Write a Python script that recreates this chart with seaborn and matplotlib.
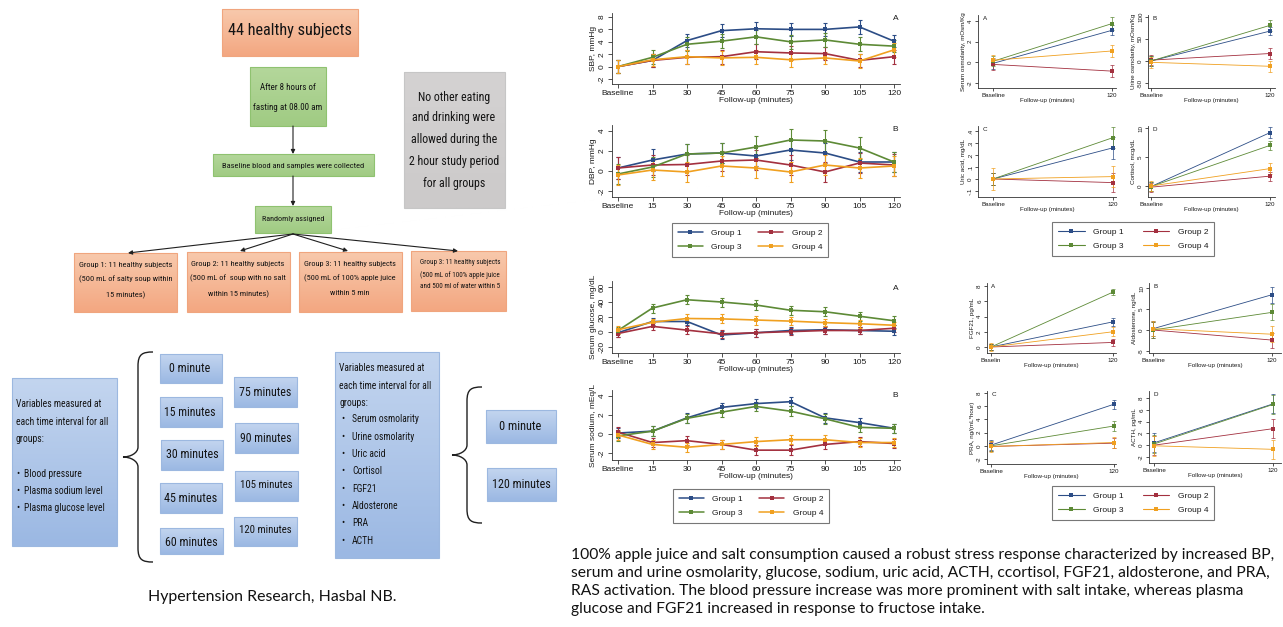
import numpy as np
import pandas as pd
import matplotlib
matplotlib.use('Agg')
import matplotlib.pyplot as plt
import seaborn as sns
from matplotlib import font_manager
from matplotlib.font_manager import FontProperties
from matplotlib.patches import Rectangle, PathPatch
from matplotlib.path import Path
from matplotlib.colors import LinearSegmentedColormap
from matplotlib.lines import Line2D

# ------------------------------------------------------------------ data
groups = ['Group 1', 'Group 2', 'Group 3', 'Group 4']
group_colors = ['#2c4d86', '#a3303f', '#5d8a36', '#f0a020']
time_labels = ['Baseline', '15', '30', '45', '60', '75', '90', '105', '120']

sbp_mean = [[0, 1.0, 4.2, 5.8, 6.1, 6.0, 6.0, 6.4, 4.1],
            [0, 1.0, 1.5, 1.6, 2.4, 2.2, 2.1, 1.0, 1.6],
            [0, 1.5, 3.6, 4.1, 4.8, 4.0, 4.3, 3.6, 3.3],
            [0, 1.1, 1.6, 1.4, 1.5, 1.1, 1.4, 0.9, 2.7]]
sbp_err = [[1.1, 1.1, 1.1, 1.1, 1.1, 1.1, 1.1, 1.1, 1.0],
           [1.1, 1.0, 1.1, 1.1, 1.2, 1.1, 1.1, 1.1, 1.1],
           [1.1, 1.1, 1.1, 1.1, 1.1, 1.1, 1.1, 1.1, 1.0],
           [1.1, 1.0, 1.1, 1.1, 1.1, 1.1, 1.0, 1.1, 1.1]]

dbp_mean = [[0.3, 1.1, 1.7, 1.8, 1.5, 2.1, 1.8, 0.9, 0.9],
            [0.3, 0.6, 0.65, 1.0, 1.1, 0.6, -0.1, 0.8, 0.6],
            [-0.3, 0.4, 1.7, 1.8, 2.4, 3.1, 3.0, 2.3, 0.9],
            [-0.4, 0.1, -0.1, 0.5, 0.3, -0.1, 0.6, 0.3, 0.5]]
dbp_err = [[1.1, 1.1, 1.0, 1.0, 1.0, 1.0, 1.0, 1.0, 1.0],
           [1.1, 1.0, 1.0, 1.0, 1.0, 1.0, 1.0, 1.0, 1.1],
           [1.0, 1.0, 1.0, 1.0, 1.1, 1.1, 1.1, 1.1, 1.0],
           [1.0, 1.0, 1.0, 1.0, 1.0, 1.0, 1.0, 1.0, 1.0]]

glucose_mean = [[-1, 14, 14, -4, -1, 2, 3, 2, 1],
                [-2, 7.5, 2.5, -2.5, -1, 0.5, 2, 2, 5],
                [2, 32, 43, 40, 36, 29, 27, 21, 15],
                [3, 13, 18, 17.5, 16, 14.5, 12.5, 11, 9]]
glucose_err = [[5, 5, 5, 5, 5, 5, 5, 5, 5],
               [5, 5, 5, 5, 5, 5, 5, 5, 5],
               [5, 6, 6, 6, 7, 6, 6, 6, 6],
               [5, 5, 6, 6, 6, 5, 5, 5, 5]]

sodium_mean = [[0.1, 0.3, 1.7, 2.8, 3.2, 3.4, 1.7, 1.2, 0.6],
               [0.2, -0.9, -0.7, -1.1, -1.7, -1.7, -1.1, -0.8, -1.0],
               [-0.2, 0.3, 1.65, 2.3, 2.9, 2.4, 1.6, 0.7, 0.6],
               [-0.1, -1.1, -1.4, -1.1, -0.8, -0.6, -0.6, -0.9, -0.9]]
sodium_err = [[0.5, 0.5, 0.5, 0.5, 0.5, 0.5, 0.5, 0.5, 0.5],
              [0.5, 0.5, 0.5, 0.5, 0.5, 0.5, 0.5, 0.5, 0.5],
              [0.5, 0.5, 0.5, 0.5, 0.5, 0.5, 0.5, 0.5, 0.5],
              [0.5, 0.5, 0.5, 0.5, 0.5, 0.5, 0.5, 0.5, 0.5]]

two_labels = ['Baseline', '120']
serum_osm_mean = [[-0.1, 3.1], [-0.2, -0.85], [0.1, 3.75], [0.2, 1.1]]
serum_osm_err = [[0.5, 0.5], [0.5, 0.6], [0.5, 0.6], [0.5, 0.6]]
urine_osm_mean = [[0, 68], [2, 17], [0, 81], [-3, -12]]
urine_osm_err = [[12, 10], [12, 13], [12, 12], [13, 12]]
uric_acid_mean = [[0, 0.26], [0, -0.03], [0, 0.345], [0, 0.02]]
uric_acid_err = [[0.05, 0.09], [0.05, 0.08], [0.05, 0.085], [0.09, 0.09]]
cortisol_mean = [[-0.1, 9.2], [-0.2, 1.7], [-0.1, 7.0], [0, 3.0]]
cortisol_err = [[0.8, 0.9], [0.8, 0.8], [0.8, 0.8], [0.9, 0.9]]
fgf21_mean = [[0, 3.3], [0, 0.6], [0, 7.2], [0, 2.0]]
fgf21_err = [[0.4, 0.5], [0.4, 0.5], [0.4, 0.4], [0.5, 0.6]]
aldo_mean = [[0.3, 8.4], [0, -2.4], [0, 4.2], [0.3, -1.0]]
aldo_err = [[1.8, 1.9], [1.8, 1.8], [1.8, 1.9], [1.8, 1.9]]
pra_mean = [[0.1, 6.3], [-0.1, 0.4], [0, 3.0], [-0.1, 0.5]]
pra_err = [[0.8, 0.7], [0.7, 0.8], [0.8, 0.7], [0.8, 0.8]]
acth_mean = [[0.4, 7.0], [0, 2.8], [0.2, 6.9], [-0.1, -0.7]]
acth_err = [[1.6, 1.6], [1.6, 1.6], [1.6, 1.6], [1.7, 1.6]]

# ------------------------------------------------------------------ setup
sns.set_theme(style='white', context='paper')
ttf = font_manager.fontManager.ttflist
avail = {f.name for f in ttf}


def pick(*names):
    for n in names:
        if n in avail:
            return n
    return 'DejaVu Sans'


def narrow_font():
    def is_regular(f):
        w = f.weight
        return (w in (400, 'normal', 'regular', 'book', 'Regular')) and f.style == 'normal'
    pref = ['Liberation Sans Narrow', 'Roboto Condensed', 'Open Sans Condensed',
            'Noto Sans', 'Open Sans', 'DejaVu Sans', 'Roboto']
    cands = [f for f in ttf if is_regular(f) and
             ('Narrow' in f.name or 'Condensed' in f.name or
              str(f.stretch) in ('condensed', 'semi-condensed', 'extra-condensed'))]
    for p in pref:
        for f in cands:
            if f.name == p and 'Mono' not in f.fname:
                return FontProperties(fname=f.fname)
    for f in cands:
        if 'Mono' not in f.fname and 'Serif' not in f.name:
            return FontProperties(fname=f.fname)
    return FontProperties(family=pick('Roboto', 'Open Sans'))


FLOW_FP = narrow_font()
CAP_FP = FontProperties(family=pick('Lato', 'Open Sans'))
PANEL = pick('Liberation Sans', 'Arimo')
plt.rcParams['font.family'] = [PANEL, 'DejaVu Sans']

W, H = 1283, 627
fig = plt.figure(figsize=(W / 100, H / 100), dpi=100, facecolor='white')
R = fig.canvas.get_renderer()

bg = fig.add_axes([0, 0, 1, 1], zorder=0)
bg.set_xlim(0, W)
bg.set_ylim(H, 0)
bg.axis('off')

TXT = '#141414'


def gbox(x0, y0, x1, y1, ctop, cbot, edge, lw=0.8):
    cmap = LinearSegmentedColormap.from_list('g', [ctop, cbot])
    grad = np.linspace(0, 1, 64)[:, None]
    bg.imshow(grad, cmap=cmap, extent=(x0, x1, y1, y0), aspect='auto',
              origin='upper', zorder=1, interpolation='bilinear')
    bg.add_patch(Rectangle((x0, y0), x1 - x0, y1 - y0, fill=False, ec=edge,
                           lw=lw, zorder=2))


def fit_size(s, target_w, fp):
    t = bg.text(0, 0, s, fontproperties=fp.copy(), fontsize=10)
    w = t.get_window_extent(renderer=R).width
    t.remove()
    return 10.0 * target_w / w


def ftext(x, y, s, target_w, fp=None, ha='center', va='center', color=TXT):
    fp = fp or FLOW_FP
    fs = fit_size(s, target_w, fp)
    return bg.text(x, y, s, fontproperties=fp.copy(), fontsize=fs, ha=ha,
                   va=va, color=color, zorder=5)


def lines_text(x, ys, lines, ref, target_w, fp=None, ha='center', color=TXT, fs=None):
    fp = fp or FLOW_FP
    if fs is None:
        fs = fit_size(lines[ref], target_w, fp)
    for yy, s in zip(ys, lines):
        bg.text(x, yy, s, fontproperties=fp.copy(), fontsize=fs, ha=ha,
                va='center', color=color, zorder=5)
    return fs


def bullets(xb, xt, ys, items, fs):
    for yy, s in zip(ys, items):
        bg.text(xb, yy, '\u2022', fontproperties=FLOW_FP.copy(), fontsize=fs,
                ha='left', va='center', color=TXT, zorder=5)
        bg.text(xt, yy, s, fontproperties=FLOW_FP.copy(), fontsize=fs,
                ha='left', va='center', color=TXT, zorder=5)


def arrow(x0, y0, x1, y1):
    bg.annotate('', xy=(x1, y1), xytext=(x0, y0),
                arrowprops=dict(arrowstyle='-|>', lw=0.8, color='#202020',
                                mutation_scale=6, shrinkA=0, shrinkB=0), zorder=4)


def brace(xo, xi, y0, ytip, y1):
    xm = xo + (xi - xo) * 0.5
    c = 8
    verts = [(xi, y0),
             (xi - (xi - xm) * 0.7, y0), (xm, y0 + 2), (xm, y0 + c + 6),
             (xm, ytip - c - 2),
             (xm, ytip - 4), (xo + (xm - xo) * 0.5, ytip), (xo, ytip),
             (xo + (xm - xo) * 0.5, ytip), (xm, ytip + 4), (xm, ytip + c + 2),
             (xm, y1 - c - 6),
             (xm, y1 - 2), (xi - (xi - xm) * 0.7, y1), (xi, y1)]
    codes = [Path.MOVETO, Path.CURVE4, Path.CURVE4, Path.CURVE4, Path.LINETO,
             Path.CURVE4, Path.CURVE4, Path.CURVE4,
             Path.CURVE4, Path.CURVE4, Path.CURVE4, Path.LINETO,
             Path.CURVE4, Path.CURVE4, Path.CURVE4]
    bg.add_patch(PathPatch(Path(verts, codes), fill=False, lw=1.0,
                           ec='#202020', zorder=3))


SAL = ('#F8C9AC', '#F3A781', '#F0A57E')
GRN = ('#B4D79B', '#A0CB83', '#8FC270')
GRY = ('#D4D2D2', '#CCCACA', '#C6C6C6')
BLU = ('#C3D5EF', '#9BB8E3', '#9CB8E0')

# ------------------------------------------------------------------ flowchart (top-left)
gbox(222, 9, 358, 56, *SAL)
ftext(290, 31, '44 healthy subjects', 123)
gbox(250, 67, 326, 126, *GRN)
lines_text(288, [88, 107], ['After 8 hours of', 'fasting at 08.00 am'], 1, 68)
gbox(213, 154, 374, 176, *GRN)
ftext(293, 166, 'Baseline blood and samples were collected', 141)
gbox(255, 206, 331, 233, *GRN)
ftext(293, 219, 'Randomly assigned', 62)
gbox(404, 72, 505, 208, *GRY)
lines_text(454, [97, 118, 140, 162, 184],
           ['No other eating', 'and drinking were', 'allowed during the',
            '2 hour study period', 'for all groups'], 3, 90)

arrow(293, 126, 293, 154)
arrow(293, 176, 293, 206)
for gx, gy in [(128, 253), (240, 251), (348, 251), (458, 251)]:
    arrow(293, 234, gx, gy)

gbox(74, 253, 177, 312, *SAL)
lines_text(125.5, [265, 279, 295], ['Group 1: 11 healthy subjects',
                                    '(500 mL of salty soup within', '15 minutes)'], 0, 93)
gbox(187, 252, 290, 312, *SAL)
lines_text(238, [264, 278, 294], ['Group 2: 11 healthy subjects',
                                  '(500 mL of  soup with no salt', 'within 15 minutes)'], 0, 93)
gbox(299, 252, 402, 312, *SAL)
lines_text(350, [264, 278, 293], ['Group 3: 11 healthy subjects',
                                  '(500 mL of 100% apple juice', 'within 5 min'], 0, 92)
gbox(411, 251, 506, 311, *SAL)
lines_text(460, [262, 275, 287], ['Group 3: 11 healthy subjects',
                                  '(500 mL of 100% apple juice',
                                  'and 500 ml of water within 5'], 0, 80)

# ------------------------------------------------------------------ flowchart (bottom-left)
gbox(12, 378, 117, 546, *BLU)
fsb = lines_text(16, [404, 422, 439], ['Variables measured at',
                                       'each time interval for all', 'groups:'],
                 1, 91, ha='left')
bullets(16, 24, [474, 491, 508], ['Blood pressure', 'Plasma sodium level',
                                  'Plasma glucose level'], fsb)

brace(123, 153, 352, 457, 562)

time_boxes = [((160, 354, 222, 383), (190, 369), '0 minute', 41),
              ((160, 397, 222, 427), (190, 412), '15 minutes', 51),
              ((161, 440, 223, 470), (192, 455), '30 minutes', 52),
              ((160, 483, 222, 513), (191, 498), '45 minutes', 53),
              ((160, 528, 223, 554), (191, 542), '60 minutes', 52),
              ((234, 377, 297, 407), (265, 392), '75 minutes', 52),
              ((235, 423, 298, 453), (266, 438), '90 minutes', 51),
              ((235, 471, 298, 501), (266, 485), '105 minutes', 52),
              ((234, 517, 297, 546), (265, 530), '120 minutes', 52)]
for (x0, y0, x1, y1), (tx, ty), s, tw in time_boxes:
    gbox(x0, y0, x1, y1, *BLU)
    ftext(tx, ty, s, tw)

gbox(335, 352, 439, 558, *BLU)
fsm = lines_text(339, [368, 386, 403], ['Variables measured at',
                                        'each time interval for all', 'groups:'],
                 1, 91, ha='left')
bullets(341, 352, [419, 437, 454, 471, 489, 506, 523, 541],
        ['Serum osmolarity', 'Urine osmolarity', 'Uric acid', 'Cortisol',
         'FGF21', 'Aldosterone', 'PRA', 'ACTH'], fsm)

brace(452, 482, 387, 455, 523)
gbox(486, 410, 556, 443, *BLU)
ftext(520, 426, '0 minute', 42)
gbox(487, 468, 556, 501, *BLU)
ftext(521, 484, '120 minutes', 58)

ftext(272, 597, 'Hypertension Research, Hasbal NB.', 248, fp=CAP_FP, color='#111111')

cap_lines = ['100% apple juice and salt consumption caused a robust stress response characterized by increased BP,',
             'serum and urine osmolarity, glucose, sodium, uric acid, ACTH, ccortisol, FGF21, aldosterone, and PRA,',
             'RAS activation. The blood pressure increase was more prominent with salt intake, whereas plasma',
             'glucose and FGF21 increased in response to fructose intake.']
cap_fs = min(fit_size(cap_lines[2], 697, CAP_FP),
             fit_size(cap_lines[0], 706, CAP_FP),
             fit_size(cap_lines[1], 706, CAP_FP))
lines_text(571, [555, 573, 591, 609], cap_lines, 2, 697, fp=CAP_FP, ha='left',
           color='#111111', fs=cap_fs)

# ------------------------------------------------------------------ chart panels


def px_axes(x0, y0, x1, y1):
    return fig.add_axes([x0 / W, 1 - y1 / H, (x1 - x0) / W, (y1 - y0) / H], zorder=2)


def lin(pa, va, pb, vb, p):
    return va + (p - pa) * (vb - va) / (pb - pa)


def panel(box, xmap, ymap, means, errs, xlabels, ylabel, yticks, yticklabels,
          letter, letter_pos, fs, lw, ms, elw, cap, tick_len):
    x0, y0, x1, y1 = box
    ax = px_axes(x0, y0, x1, y1)
    n = len(xlabels)
    rows = []
    for gi, g in enumerate(groups):
        for ti in range(n):
            rows.append((g, ti, means[gi][ti], errs[gi][ti]))
    df = pd.DataFrame(rows, columns=['group', 'pos', 'mean', 'err'])
    for gi, g in enumerate(groups):
        d = df[df['group'] == g]
        ax.errorbar(d['pos'], d['mean'], yerr=d['err'], fmt='none',
                    ecolor=group_colors[gi], elinewidth=elw, capsize=cap,
                    capthick=elw, zorder=2)
    sns.lineplot(data=df, x='pos', y='mean', hue='group', hue_order=groups,
                 palette=group_colors, marker='s', markersize=ms,
                 markeredgewidth=0, linewidth=lw, legend=False, ax=ax,
                 errorbar=None, zorder=3)
    pa, pb = xmap
    ax.set_xlim(lin(pa, 0, pb, n - 1, x0), lin(pa, 0, pb, n - 1, x1))
    (ya, va), (yb, vb) = ymap
    ax.set_ylim(lin(ya, va, yb, vb, y1), lin(ya, va, yb, vb, y0))
    ax.set_xticks(range(n))
    ax.set_xticklabels(xlabels)
    ax.set_yticks(yticks)
    ax.set_yticklabels(yticklabels, rotation=90, va='center')
    for s in ['top', 'right']:
        ax.spines[s].set_visible(False)
    for s in ['left', 'bottom']:
        ax.spines[s].set_linewidth(0.6)
        ax.spines[s].set_color('#333333')
    ax.tick_params(axis='both', length=tick_len, width=0.6, labelsize=fs,
                   color='#333333', labelcolor='#1a1a1a', pad=1.5,
                   left=True, bottom=True, direction='out')
    ax.set_xlabel('Follow-up (minutes)', fontsize=fs, color='#1a1a1a', labelpad=0)
    ax.set_ylabel(ylabel, fontsize=fs, color='#1a1a1a', labelpad=1.5)
    ax.set_facecolor('none')
    ax.grid(False)
    ax.text(letter_pos[0], letter_pos[1], letter, transform=ax.transAxes,
            fontsize=fs, color='#1a1a1a', ha='center', va='center')
    return ax


def legend(cx, cy, fs, lw, ms, hl, cs):
    handles = [Line2D([], [], color=c, lw=lw, marker='s', ms=ms, mew=0)
               for c in group_colors]
    order = [0, 2, 1, 3]
    leg = fig.legend([handles[i] for i in order], [groups[i] for i in order],
                     ncol=2, loc='center', bbox_to_anchor=(cx / W, 1 - cy / H),
                     fontsize=fs, frameon=True, fancybox=False, handlelength=hl,
                     handletextpad=1.0, columnspacing=cs, labelspacing=0.7,
                     borderpad=0.7)
    leg.get_frame().set_edgecolor('#555555')
    leg.get_frame().set_linewidth(0.8)
    for t in leg.get_texts():
        t.set_color('#1a1a1a')


MID = dict(fs=6, lw=1.2, ms=3, elw=0.8, cap=1.6, tick_len=3)
XM = (618, 894)
panel((612, 13, 900, 84), XM, ((17, 8), (79, -2)), sbp_mean, sbp_err, time_labels,
      'SBP, mmHg', [-2, 0, 2, 4, 6, 8], ['-2', '0', '2', '4', '6', '8'],
      'A', (0.985, 0.92), **MID)
panel((612, 125, 900, 197), XM, ((131, 4), (191, -2)), dbp_mean, dbp_err, time_labels,
      'DBP, mmHg', [-2, 0, 2, 4], ['-2', '0', '2', '4'],
      'B', (0.985, 0.94), **MID)
legend(750, 240, 6, 1.1, 3, 3.0, 2.0)
panel((612, 281, 900, 353), XM, ((287, 60), (347, -20)), glucose_mean, glucose_err,
      time_labels, 'Serum glucose, mg/dL', [-20, 0, 20, 40, 60],
      ['-20', '0', '20', '40', '60'], 'A', (0.985, 0.9), **MID)
panel((612, 390, 900, 460), XM, ((396, 4), (453, -2)), sodium_mean, sodium_err,
      time_labels, 'Serum sodium, mEq/L', [-2, 0, 2, 4], ['-2', '0', '2', '4'],
      'B', (0.985, 0.92), **MID)
legend(751, 506, 6, 1.1, 3, 3.0, 2.0)

RGT = dict(fs=4.5, lw=0.6, ms=2.2, elw=0.5, cap=1.2, tick_len=2)
panel((978, 15, 1116, 88), (993, 1112), ((21, 4), (83, -2)), serum_osm_mean,
      serum_osm_err, two_labels, 'Serum osmolarity, mOsm/Kg', [-2, 0, 2, 4],
      ['-2', '0', '2', '4'], 'A', (0.05, 0.95), **RGT)
panel((1148, 15, 1275, 88), (1151, 1270), ((17, 100), (83, -50)), urine_osm_mean,
      urine_osm_err, two_labels, 'Urine osmolarity, mOsm/Kg', [-50, 0, 50, 100],
      ['-50', '0', '50', '100'], 'B', (0.05, 0.95), **RGT)
panel((978, 126, 1116, 197), (993, 1113), ((131, 0.4), (191, -0.1)), uric_acid_mean,
      uric_acid_err, two_labels, 'Uric acid, mg/dL', [-0.1, 0, 0.1, 0.2, 0.3, 0.4],
      ['-.1', '0', '.1', '.2', '.3', '.4'], 'C', (0.05, 0.95), **RGT)
panel((1148, 126, 1275, 197), (1151, 1270), ((128, 10), (186, 0)), cortisol_mean,
      cortisol_err, two_labels, 'Cortisol, mcg/dL', [0, 5, 10], ['0', '5', '10'],
      'D', (0.05, 0.95), **RGT)
legend(1133, 239, 6, 0.8, 2.5, 3.2, 2.3)

panel((987, 283, 1116, 353), (991, 1113), ((286, 8), (347, 0)), fgf21_mean, fgf21_err,
      ['Baselin', '120'], 'FGF21, pg/mL', [0, 2, 4, 6, 8], ['0', '2', '4', '6', '8'],
      'A', (0.05, 0.95), **RGT)
panel((1149, 283, 1281, 353), (1153, 1272), ((288, 10), (351, -5)), aldo_mean, aldo_err,
      two_labels, 'Aldosterone, ng/dL', [-5, 0, 5, 10], ['-5', '0', '5', '10'],
      'B', (0.05, 0.95), **RGT)
panel((987, 391, 1116, 464), (991, 1114), ((393, 8), (459, -2)), pra_mean, pra_err,
      two_labels, 'PRA, ng/(mL*hour)', [-2, 0, 2, 4, 6, 8],
      ['-2', '0', '2', '4', '6', '8'], 'C', (0.05, 0.95), **RGT)
panel((1149, 391, 1281, 463), (1154, 1273), ((398, 8), (457, -2)), acth_mean, acth_err,
      two_labels, 'ACTH, pg/mL', [-2, 0, 2, 4, 6, 8],
      ['-2', '0', '2', '4', '6', '8'], 'D', (0.05, 0.95), **RGT)
legend(1133, 503, 6, 0.8, 2.5, 3.2, 2.3)

bg.set_xlim(0, W)
bg.set_ylim(H, 0)
fig.savefig('out.png', dpi=100, facecolor='white')
